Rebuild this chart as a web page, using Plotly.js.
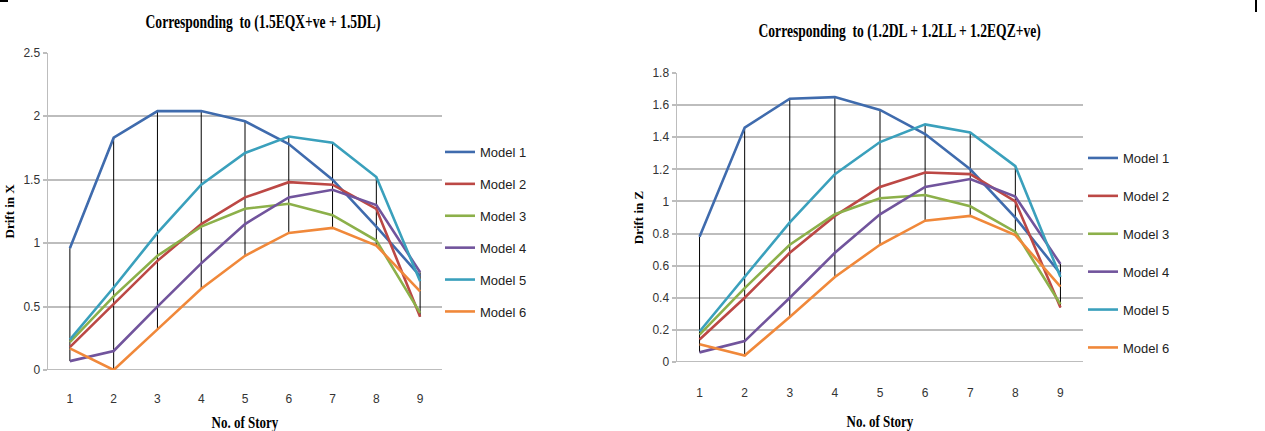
<!DOCTYPE html>
<html><head><meta charset="utf-8">
<script src="https://cdn.plot.ly/plotly-3.0.1.min.js"></script>
<style>html,body{margin:0;padding:0;background:#fff}#chart{width:1265px;height:431px}</style>
</head><body><div id="chart"></div>
<script>
// ---- data ----
const stories = [1, 2, 3, 4, 5, 6, 7, 8, 9];
const modelNames = ['Model 1', 'Model 2', 'Model 3', 'Model 4', 'Model 5', 'Model 6'];
const modelColors = ['#3F6BAD', '#BC4845', '#8CB04A', '#71549C', '#3AA0BC', '#F0883A'];

// Drift in X, load combo 1.5EQX+ve + 1.5DL
const driftX_model1 = [0.96, 1.83, 2.04, 2.04, 1.96, 1.78, 1.50, 1.13, 0.74];
const driftX_model2 = [0.18, 0.52, 0.86, 1.15, 1.36, 1.48, 1.46, 1.27, 0.42];
const driftX_model3 = [0.22, 0.58, 0.90, 1.13, 1.27, 1.31, 1.22, 1.02, 0.45];
const driftX_model4 = [0.07, 0.15, 0.50, 0.84, 1.15, 1.36, 1.42, 1.30, 0.77];
const driftX_model5 = [0.24, 0.65, 1.08, 1.46, 1.71, 1.84, 1.79, 1.52, 0.70];
const driftX_model6 = [0.17, 0.00, 0.32, 0.64, 0.90, 1.08, 1.12, 0.98, 0.62];

// Drift in Z, load combo 1.2DL + 1.2LL + 1.2EQZ+ve
const driftZ_model1 = [0.78, 1.46, 1.64, 1.65, 1.57, 1.42, 1.20, 0.90, 0.55];
const driftZ_model2 = [0.14, 0.40, 0.68, 0.91, 1.09, 1.18, 1.17, 1.00, 0.34];
const driftZ_model3 = [0.17, 0.46, 0.73, 0.92, 1.02, 1.04, 0.97, 0.81, 0.36];
const driftZ_model4 = [0.06, 0.13, 0.40, 0.68, 0.92, 1.09, 1.14, 1.03, 0.61];
const driftZ_model5 = [0.19, 0.53, 0.87, 1.17, 1.37, 1.48, 1.43, 1.22, 0.53];
const driftZ_model6 = [0.11, 0.04, 0.28, 0.53, 0.73, 0.88, 0.91, 0.79, 0.47];

const xTicks = [0, 0.5, 1, 1.5, 2, 2.5];
const xTickText = ['0', '0.5', '1', '1.5', '2', '2.5'];
const zTicks = [0, 0.2, 0.4, 0.6, 0.8, 1, 1.2, 1.4, 1.6, 1.8];
const zTickText = ['0', '0.2', '0.4', '0.6', '0.8', '1', '1.2', '1.4', '1.6', '1.8'];

// ---- build ----
const serif = '"Liberation Serif", "Times New Roman", serif';
const sans = '"Liberation Sans Narrow", "Liberation Sans", Arial, sans-serif';
const gridColor = '#BDBDBD';

function highLow(seriesList, xa, ya) {
  const xs = [], ys = [];
  stories.forEach((s, i) => {
    const vals = seriesList.map(a => a[i]);
    xs.push(s, s, null);
    ys.push(Math.max(...vals), Math.min(...vals), null);
  });
  return {x: xs, y: ys, xaxis: xa, yaxis: ya, mode: 'lines', type: 'scatter',
    line: {color: '#000', width: 1}, showlegend: false, hoverinfo: 'skip'};
}

const xSeries = [driftX_model1, driftX_model2, driftX_model3, driftX_model4, driftX_model5, driftX_model6];
const zSeries = [driftZ_model1, driftZ_model2, driftZ_model3, driftZ_model4, driftZ_model5, driftZ_model6];

const traces = [highLow(xSeries, 'x', 'y'), highLow(zSeries, 'x2', 'y2')];
xSeries.forEach((vals, k) => traces.push({
  x: stories, y: vals, xaxis: 'x', yaxis: 'y', type: 'scatter', mode: 'lines',
  name: modelNames[k], legend: 'legend', legendgroup: 'L' + k,
  line: {color: modelColors[k], width: 2.6}
}));
zSeries.forEach((vals, k) => traces.push({
  x: stories, y: vals, xaxis: 'x2', yaxis: 'y2', type: 'scatter', mode: 'lines',
  name: modelNames[k], legend: 'legend2', legendgroup: 'R' + k,
  line: {color: modelColors[k], width: 2.6}
}));

const W = 1265, H = 431;
const px = v => v / W, py = v => 1 - v / H;

function xAxis(domain, labelGap, titleGap) {
  return {
    domain: domain, range: [0.5, 9.5], tickvals: stories, ticktext: stories.map(String),
    showgrid: false, zeroline: false, showline: false,
    ticks: 'outside', ticklen: labelGap, tickcolor: 'rgba(0,0,0,0)',
    tickfont: {family: sans, size: 12, color: '#333'},
    title: {text: 'No. of Story', font: {family: serif, size: 13, color: '#000', weight: 'bold'}, standoff: titleGap},
    fixedrange: true
  };
}
function yAxis(domain, range, tv, tt, title, anchor) {
  return {
    domain: domain, range: range, tickvals: tv, ticktext: tt, anchor: anchor,
    showgrid: true, gridcolor: gridColor, gridwidth: 2, zeroline: false,
    showline: true, linecolor: gridColor, linewidth: 1.5,
    ticks: 'outside', ticklen: 4, tickcolor: gridColor, tickwidth: 2,
    tickfont: {family: sans, size: 12, color: '#333'},
    title: {text: title, font: {family: serif, size: 13, color: '#000', weight: 'bold'}, standoff: 6},
    fixedrange: true
  };
}

const layout = {
  width: W, height: H, margin: {l: 0, r: 0, t: 0, b: 0},
  paper_bgcolor: '#fff', plot_bgcolor: '#fff',
  title: {text: 'Corresponding\u00a0 to (1.5EQX+ve + 1.5DL)', x: px(263), y: py(22), xanchor: 'center', yanchor: 'middle',
    xref: 'paper', yref: 'paper',
    font: {family: serif, size: 14, color: '#000', weight: 'bold'}},
  xaxis: Object.assign(xAxis([px(48), px(442)], 18, 12), {anchor: 'y'}),
  yaxis: yAxis([1 - 370 / H, 1 - 52.7 / H], [0, 2.5], xTicks, xTickText, 'Drift in X', 'x'),
  xaxis2: Object.assign(xAxis([px(677), px(1083)], 20, 17), {anchor: 'y2'}),
  yaxis2: yAxis([1 - 362 / H, 1 - 73 / H], [0, 1.8], zTicks, zTickText, 'Drift in Z', 'x2'),
  legend: {x: px(440), y: py(232), xanchor: 'left', yanchor: 'middle', traceorder: 'grouped',
    tracegroupgap: 12, bgcolor: 'rgba(0,0,0,0)', font: {family: sans, size: 13, color: '#222'}},
  legend2: {x: px(1083), y: py(253), xanchor: 'left', yanchor: 'middle', traceorder: 'grouped',
    tracegroupgap: 18, bgcolor: 'rgba(0,0,0,0)', font: {family: sans, size: 13, color: '#222'}},
  annotations: [{
    text: 'Corresponding\u00a0 to (1.2DL + 1.2LL + 1.2EQZ+ve)', xref: 'paper', yref: 'paper',
    x: px(900), y: py(32), xanchor: 'center', yanchor: 'middle', showarrow: false,
    font: {family: serif, size: 14, color: '#000', weight: 'bold'}
  }],
  shapes: [
    // baseline (0 gridline) of each plot
    {type: 'line', xref: 'x domain', yref: 'y', x0: 0, x1: 1, y0: 0, y1: 0, layer: 'below', line: {color: gridColor, width: 2}},
    {type: 'line', xref: 'x2 domain', yref: 'y2', x0: 0, x1: 1, y0: 0, y1: 0, layer: 'below', line: {color: gridColor, width: 2}},
    // scan-edge marks at the image corners
    {type: 'line', xref: 'paper', yref: 'paper', x0: 0, x1: px(8), y0: py(1), y1: py(1), line: {color: '#000', width: 2}},
    {type: 'line', xref: 'paper', yref: 'paper', x0: px(1256), x1: px(1256), y0: 1, y1: py(12), line: {color: '#000', width: 2}}
  ],
  showlegend: true
};

function stretch(el, sx, sy) {
  if (!el) return;
  const b = el.getBBox();
  const cx = b.x + b.width / 2, cy = b.y + b.height / 2;
  const prev = el.getAttribute('transform') || '';
  el.setAttribute('transform', prev + ` translate(${cx},${cy}) scale(${sx},${sy}) translate(${-cx},${-cy})`);
}

Plotly.newPlot('chart', traces, layout, {displayModeBar: false, staticPlot: true}).then(gd => {
  stretch(gd.querySelector('.g-gtitle text'), 0.97, 1.35);
  gd.querySelectorAll('.annotation-text').forEach(t => stretch(t, 0.97, 1.35));
  gd.querySelectorAll('.g-xtitle text, .g-x2title text').forEach(t => stretch(t, 1, 1.25));
});
</script>
</body></html>
